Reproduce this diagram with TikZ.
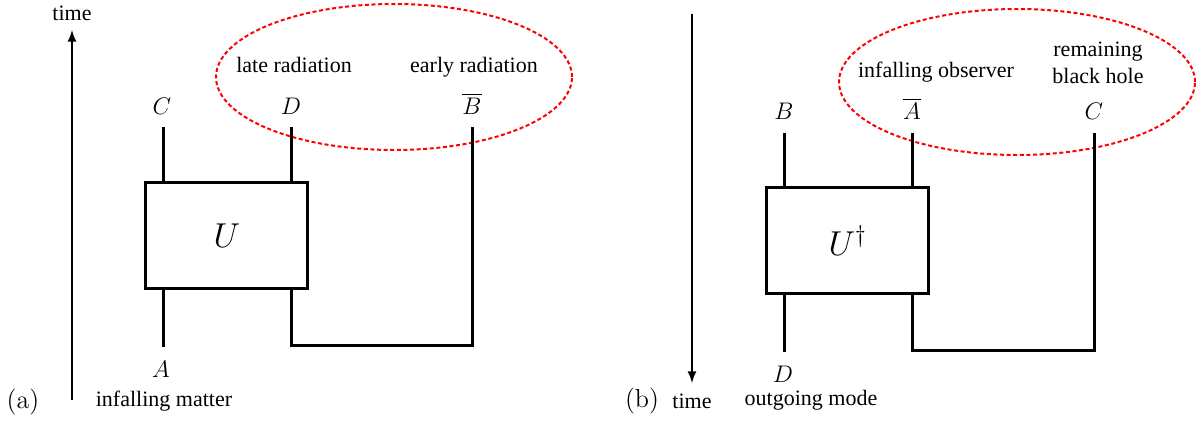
\documentclass[tikz,border=0pt]{standalone}
\usepackage{fontspec}
\newfontfamily\timesfont{Liberation Serif}
\usetikzlibrary{arrows,calc}

\begin{document}
\begin{tikzpicture}[x=0.5pt,y=-0.5pt]
    \tikzstyle{every node}=[inner sep=0pt]
    \tikzstyle{wire}=[line width=1.5pt]
    \tikzstyle{gate}=[draw, line width=1.6pt, minimum width=81pt, minimum height=52.8pt, font=\fontsize{17}{20}\selectfont]
    \tikzstyle{lbl}=[anchor=base, font=\fontsize{13}{15}\selectfont]
    \tikzstyle{txt}=[anchor=base, font=\timesfont\fontsize{11}{13.5}\selectfont]
    \tikzstyle{region}=[red, line width=1pt, dash pattern=on 2pt off 1.3pt]
    \useasboundingbox (0,0) rectangle (1196,424);

      % (a) : time running up
      \coordinate (Ta0) at (72,400);
      \coordinate (Ta1) at (72,30);
      \draw[-latex, line width=1pt] (Ta0) -- (Ta1);
      \node[txt] (timeA) at (72,20) {time};
      \node[anchor=base, font=\fontsize{13}{15}\selectfont] (capA) at (23,408) {(a)};

      % radiation region
      \draw[region] (394,77) ellipse [x radius=89pt, y radius=36.5pt];
      \node[txt] (lateRad) at (294,72) {late radiation};
      \node[txt] (earlyRad) at (474,72) {early radiation};

      % unitary
      \node[gate] (U) at (226.8,235.6) {$U$};

      \node[lbl] (Ca) at (162,114) {$C$};
      \node[lbl] (Da) at (291,114) {$D$};
      \node[lbl] (Bbar) at (472,114) {$\overline{B}$};
      \node[lbl] (Aa) at (161,377) {$A$};
      \node[txt] (matter) at (164,406) {infalling matter};

      \coordinate (CaTop) at (163,127);
      \coordinate (DaTop) at (291,127);
      \coordinate (BTop) at (472,127);
      \coordinate (BBot) at (472,345);
      \coordinate (AaBot) at (163,347);

      % wires
      \draw[wire] (CaTop) -- (CaTop |- U.north);
      \draw[wire] (DaTop) -- (DaTop |- U.north);
      \draw[wire] (AaBot) -- (AaBot |- U.south);
      \draw[wire] (DaTop |- U.south) |- (BBot) -- (BTop);

      % (b) : time running down
      \coordinate (Tb0) at (692,14);
      \coordinate (Tb1) at (692,383);
      \draw[-latex, line width=1pt] (Tb0) -- (Tb1);
      \node[anchor=base, font=\fontsize{13}{15}\selectfont] (capB) at (642,407) {(b)};
      \node[txt] (timeB) at (692,408) {time};

      % observer region
      \draw[region] (1017,82) ellipse [x radius=89pt, y radius=36.5pt];
      \node[txt] (observer) at (936,77) {infalling observer};
      \node[txt, align=center] (remain) at (1098,83) {remaining\\black hole};

      % inverse unitary
      \node[gate] (Ud) at (847.7,240.5) {$U^\dagger$};

      \node[lbl] (Bb) at (784,119) {$B$};
      \node[lbl] (Abar) at (912,119) {$\overline{A}$};
      \node[lbl] (Cb) at (1094,119) {$C$};
      \node[lbl] (Db) at (783,382) {$D$};
      \node[txt] (outgoing) at (811,405) {outgoing mode};

      \coordinate (BbTop) at (784,133);
      \coordinate (AbarTop) at (912,133);
      \coordinate (CbTop) at (1094,133);
      \coordinate (CbBot) at (1094,350);
      \coordinate (DbBot) at (784,352);

      % wires
      \draw[wire] (BbTop) -- (BbTop |- Ud.north);
      \draw[wire] (AbarTop) -- (AbarTop |- Ud.north);
      \draw[wire] (DbBot) -- (DbBot |- Ud.south);
      \draw[wire] (AbarTop |- Ud.south) |- (CbBot) -- (CbTop);

\end{tikzpicture}
\end{document}
